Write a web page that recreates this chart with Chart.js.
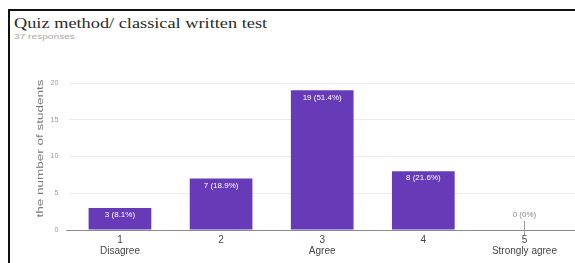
<!DOCTYPE html>
<html>
<head>
<meta charset="utf-8">
<script src="https://cdn.jsdelivr.net/npm/chart.js@4/dist/chart.umd.min.js"></script>
<style>
  html,body{margin:0;padding:0;background:#fff;}
  #wrap{position:relative;width:575px;height:263px;overflow:hidden;}
  #frame{position:absolute;left:8px;top:9px;width:580px;height:270px;border-left:2px solid #111;border-top:2px solid #111;}
  #title{position:absolute;left:14px;top:15px;font-family:"Liberation Serif","DejaVu Serif",serif;font-size:15px;color:#2a2a2a;white-space:nowrap;transform-origin:0 0;transform:scaleX(1.22);}
  #sub{position:absolute;left:14px;top:33px;font-family:"Liberation Sans",Arial,sans-serif;font-size:7px;color:#aaa;white-space:nowrap;transform-origin:0 0;transform:scaleX(1.45);}
  canvas{position:absolute;left:0;top:0;}
</style>
</head>
<body>
<div id="wrap">
  <div id="frame"></div>
  <div id="title">Quiz method/ classical written test</div>
  <div id="sub">37 responses</div>
  <canvas id="c" width="575" height="263"></canvas>
</div>
<script>
const categories = [['1','Disagree'], ['2'], ['3','Agree'], ['4'], ['5','Strongly agree']];
const counts = [3, 7, 19, 8, 0];
const percentLabels = ['8.1%', '18.9%', '51.4%', '21.6%', '0%'];
const yTicks = [0, 5, 10, 15, 20];
const yTitle = 'the number of students';

const extras = {
  id: 'extras',
  afterDatasetsDraw(chart) {
    const ctx = chart.ctx;
    const meta = chart.getDatasetMeta(0);
    const area = chart.chartArea;
    ctx.save();
    ctx.strokeStyle = '#8a8a8a';
    ctx.lineWidth = 1;
    const y0 = Math.round(chart.scales.y.getPixelForValue(0)) + 0.5;
    ctx.beginPath();
    ctx.moveTo(area.left - 3, y0);
    ctx.lineTo(area.left, y0);
    ctx.stroke();
    ctx.font = '8px "Liberation Sans", Arial, sans-serif';
    ctx.textAlign = 'center';
    ctx.textBaseline = 'middle';
    meta.data.forEach((bar, i) => {
      const txt = counts[i] + ' (' + percentLabels[i] + ')';
      if (counts[i] > 0) {
        ctx.fillStyle = '#ffffff';
        ctx.fillText(txt, bar.x, bar.y + 7);
      } else {
        ctx.fillStyle = '#888';
        ctx.fillText(txt, bar.x, bar.y - 15);
        ctx.strokeStyle = '#999';
        ctx.beginPath();
        ctx.moveTo(Math.round(bar.x) + 0.5, bar.y - 9);
        ctx.lineTo(Math.round(bar.x) + 0.5, bar.y + 5);
        ctx.stroke();
      }
    });
    const cy = (area.top + area.bottom) / 2 - 8;
    ctx.translate(40, cy);
    ctx.rotate(-Math.PI / 2);
    ctx.scale(1.42, 1);
    ctx.fillStyle = '#777';
    ctx.font = '9.5px "Liberation Sans", Arial, sans-serif';
    ctx.fillText(yTitle, 0, 0);
    ctx.restore();
  }
};

new Chart(document.getElementById('c'), {
  type: 'bar',
  data: {
    labels: categories,
    datasets: [{
      data: counts,
      backgroundColor: '#673ab7',
      borderWidth: 0,
      barPercentage: 0.62,
      categoryPercentage: 1.0
    }]
  },
  options: {
    responsive: false,
    animation: false,
    events: [],
    layout: { padding: { left: 0, right: 0, top: 83, bottom: 0 } },
    plugins: { legend: { display: false }, tooltip: { enabled: false }, title: { display: false } },
    scales: {
      x: {
        afterFit(s) { s.height = 33; },
        grid: { display: true, drawOnChartArea: false, offset: false, tickLength: 5, color: 'rgba(0,0,0,0)' },
        border: { display: true, color: '#8a8a8a', width: 1 },
        ticks: { font: { family: '"Liberation Sans", Arial, sans-serif', size: 10, lineHeight: 1.1 }, color: '#444', padding: 0, maxRotation: 0, autoSkip: false }
      },
      y: {
        min: 0, max: 20,
        afterFit(s) { s.width = 69.4; },
        afterBuildTicks(s) { s.ticks = yTicks.map(v => ({ value: v })); },
        grid: { drawTicks: false, color: (c) => c.tick && c.tick.value === 0 ? '#8a8a8a' : '#ececec' },
        border: { display: false },
        ticks: { font: { family: '"Liberation Sans", Arial, sans-serif', size: 7 }, color: '#999', padding: 11 },
        title: { display: false }
      }
    }
  },
  plugins: [extras]
});
</script>
</body>
</html>
